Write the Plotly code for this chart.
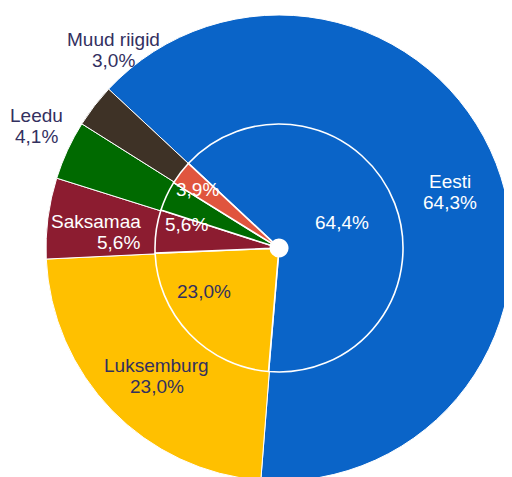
import math
import plotly.graph_objects as go

# outer ring
outer_labels = ["Eesti", "Luksemburg", "Saksamaa", "Leedu", "Muud riigid"]
outer_values = [64.3, 23.0, 5.6, 4.1, 3.0]

# inner pie
inner_labels = ["Eesti", "Luksemburg", "Saksamaa", "Leedu", "Muud riigid"]
inner_values = [64.4, 23.0, 5.6, 3.9, 3.1]

OUTER_COLORS = ["#0a64c8", "#ffc000", "#8c1c30", "#006a00", "#3e3226"]
INNER_COLORS = ["#0a64c8", "#ffc000", "#8c1c30", "#006a00", "#e0553e"]
NAVY = "#33305f"
FONT = "Liberation Sans, Arial, sans-serif"
FONT_SIZE = 19
LINE_GAP = 21
W, H = 512, 477
PAGE_OFFSET = 8          # body margin of the html page
CX, CY = 279 - PAGE_OFFSET, 248 - PAGE_OFFSET
R_OUT, R_IN = 233, 124
ROTATION = -47

# label placement: (radius as share of ring radius, angle nudge, colour, x shift of value line)
OUTER_LABEL_POS = [(0.77, 3.2, 'white', 0), (0.76, -2.3, NAVY, 0), (0.79, -2.4, 'white', 23),
                   (1.166, 1.9, NAVY, 0), (1.107, 12.4, NAVY, 0)]
INNER_LABEL_POS = [(0.55, -1.3, 'white'), (0.70, 13.6, NAVY), (0.77, 6.3, 'white'),
                   None, (0.81, -2.0, 'white')]


def dom(r):
    return {'x': [(CX - r) / W, (CX + r) / W],
            'y': [1 - (CY + r) / H, 1 - (CY - r) / H]}


def pct(v):
    return f"{v:.1f}".replace('.', ',') + '%'


def mid_angles(values):
    total = sum(values)
    start = ROTATION
    out = []
    for v in values:
        span = 360 * v / total
        out.append(start + span / 2)
        start += span
    return out


def label_xy(angle, r):
    a = math.radians(angle)
    return (CX + r * math.sin(a)) / W, 1 - (CY - r * math.cos(a)) / H


def text_ann(x, y, text, color, yshift=0, xshift=0):
    return dict(x=x, y=y, xref='paper', yref='paper', showarrow=False,
                xanchor='center', yanchor='middle', text=text,
                yshift=yshift, xshift=xshift,
                font={'size': FONT_SIZE, 'color': color, 'family': FONT})


fig = go.Figure()

fig.add_trace(go.Pie(
    labels=outer_labels,
    values=outer_values,
    sort=False,
    direction='clockwise',
    rotation=ROTATION,
    hole=0.04,
    domain=dom(R_OUT),
    marker={'colors': OUTER_COLORS, 'line': {'color': 'white', 'width': 1}},
    textinfo='none',
    showlegend=False,
))

fig.add_trace(go.Pie(
    labels=inner_labels,
    values=inner_values,
    sort=False,
    direction='clockwise',
    rotation=ROTATION,
    hole=0.07,
    domain=dom(R_IN),
    marker={'colors': INNER_COLORS, 'line': {'color': 'white', 'width': 1.6}},
    textinfo='none',
    showlegend=False,
))

annotations = []
for lab, val, ang, pos in zip(outer_labels, outer_values, mid_angles(outer_values), OUTER_LABEL_POS):
    rf, nudge, col, vshift = pos
    x, y = label_xy(ang + nudge, rf * R_OUT)
    annotations.append(text_ann(x, y, lab, col, yshift=LINE_GAP / 2))
    annotations.append(text_ann(x, y, pct(val), col, yshift=-LINE_GAP / 2, xshift=vshift))

inner_text = [pct(inner_values[0]), pct(inner_values[1]), pct(inner_values[2]), None, pct(inner_values[3])]
for txt, ang, pos in zip(inner_text, mid_angles(inner_values), INNER_LABEL_POS):
    if pos is None:
        continue
    rf, nudge, col = pos
    x, y = label_xy(ang + nudge, rf * R_IN)
    annotations.append(text_ann(x, y, txt, col))

fig.update_layout(
    width=W,
    height=H,
    margin={'l': 0, 'r': 0, 't': 0, 'b': 0},
    paper_bgcolor='white',
    font={'family': FONT},
    annotations=annotations,
)

fig.write_html("out.html")
